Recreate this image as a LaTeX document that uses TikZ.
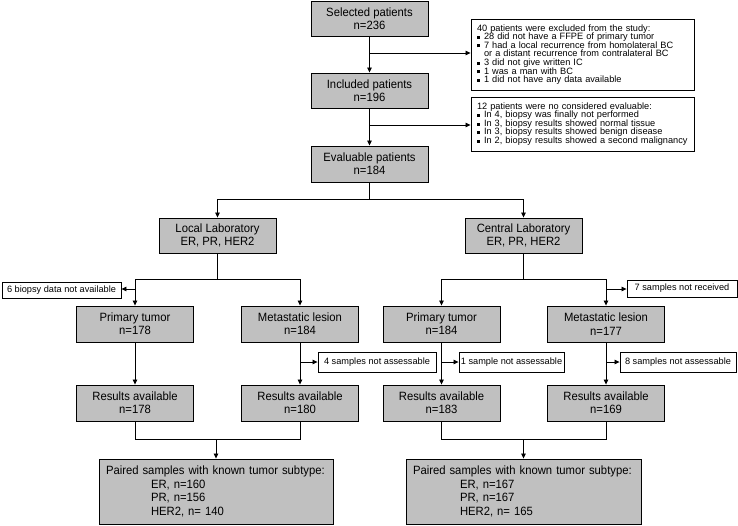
\documentclass[tikz,border=0pt]{standalone}
\usepackage{fontspec}
\setmainfont{Liberation Sans}
\newfontfamily\boxfont[FakeStretch=0.94]{Liberation Sans}
\usetikzlibrary{arrows.meta}
\definecolor{boxgray}{RGB}{192,192,192}
\newcommand{\sqb}{\makebox[7pt][l]{\rule[0.8pt]{3pt}{3pt}}}
\begin{document}
\begin{tikzpicture}[x=1pt,y=-1pt,
  box/.style={draw=black, fill=boxgray, line width=0.9pt, minimum width=117pt, minimum height=35pt,
    inner sep=0pt, align=center, font=\boxfont\fontsize{12}{13.4}\selectfont},
  note/.style={draw=black, fill=white, line width=0.9pt, inner sep=0pt,
    font=\fontsize{9.2}{8.6}\selectfont},
  arr/.style={-{Triangle[length=5pt,width=4.5pt]}, line width=0.8pt},
  ln/.style={line width=0.8pt}]
\useasboundingbox (0,0) rectangle (738,525);

% main column
\node[box] (sel) at (369.5,18.5) {Selected patients\\n=236};
\node[box] (inc) at (369.5,90.5) {Included patients\\n=196};
\node[box, minimum height=36pt] (eva) at (369.5,164) {Evaluable patients\\n=184};

\node[note, text width=211pt, inner xsep=6pt, minimum height=71pt, align=left] (ex1) at (582.5,54.5)
 {40 patients were excluded from the study:\\
  \sqb 28 did not have a FFPE of primary tumor\\
  \sqb 7 had a local recurrence from homolateral BC\\
  \hspace*{7pt}or a distant recurrence from contralateral BC\\
  \sqb 3 did not give written IC\\
  \sqb 1 was a man with BC\\
  \sqb 1 did not have any data available};
\node[note, text width=211pt, inner xsep=6pt, minimum height=54pt, align=left] (ex2) at (582.5,124)
 {12 patients were no considered evaluable:\\
  \sqb In 4, biopsy was finally not performed\\
  \sqb In 3, biopsy results showed normal tissue\\
  \sqb In 3, biopsy results showed benign disease\\
  \sqb In 2, biopsy results showed a second malignancy};

% laboratories
\node[box] (loc) at (217.5,235.5) {Local Laboratory\\ER, PR, HER2};
\node[box] (cen) at (523.5,235.5) {Central Laboratory\\ER, PR, HER2};

\node[box, minimum height=36pt] (pt1) at (135,324) {Primary tumor\\n=178};
\node[box, minimum height=36pt] (ml1) at (300,324) {Metastatic lesion\\n=184};
\node[box, minimum height=36pt] (pt2) at (441.5,324) {Primary tumor\\n=184};
\node[box, minimum height=36pt] (ml2) at (606,324) {Metastatic lesion\\n=177};

\node[note, minimum width=119pt, minimum height=16pt] (bio) at (61.5,290) {6 biopsy data not available};
\node[note, minimum width=110pt, minimum height=17pt] (rec) at (682,288.5) {7 samples not received};

\node[note, minimum width=118pt, minimum height=20pt] (ns1) at (377,362) {4 samples not assessable};
\node[note, minimum width=105pt, minimum height=20pt] (ns2) at (511.5,362) {1 sample not assessable};
\node[note, minimum width=116pt, minimum height=20pt] (ns3) at (678,362) {8 samples not assessable};

\node[box, minimum height=36pt] (r1) at (135,403) {Results available\\n=178};
\node[box, minimum height=36pt] (r2) at (300,403) {Results available\\n=180};
\node[box, minimum height=36pt] (r3) at (441.5,403) {Results available\\n=183};
\node[box, minimum height=36pt] (r4) at (606,403) {Results available\\n=169};

\node[box, text width=220pt, inner xsep=7pt, minimum height=65pt, align=left] (pl) at (216,491.5)
 {Paired samples with known tumor subtype:\\
  \hspace*{45pt}ER, n=160\\
  \hspace*{45pt}PR, n=156\\
  \hspace*{45pt}HER2, n= 140};
\node[box, text width=221pt, inner xsep=7pt, minimum height=65pt, align=left] (pr) at (523.5,491.5)
 {Paired samples with known tumor subtype:\\
  \hspace*{47pt}ER, n=167\\
  \hspace*{47pt}PR, n=167\\
  \hspace*{47pt}HER2, n= 165};

% connectors: main column
\draw[arr] (sel) -- (inc);
\draw[arr] (inc) -- (eva);
\coordinate (j1) at (369.5,53);
\coordinate (j2) at (369.5,125);
\draw[arr] (j1) -- (j1 -| ex1.west);
\draw[arr] (j2) -- (j2 -| ex2.west);

\coordinate (s0) at (369.5,199);
\draw[ln] (eva.south) -- (s0);
\draw[arr] (s0) -| (loc.north);
\draw[arr] (s0) -| (cen.north);

\coordinate (s1) at (217.5,279);
\draw[ln] (loc.south) -- (s1);
\draw[arr] (s1) -| (pt1.north);
\draw[arr] (s1) -| (ml1.north);
\coordinate (b1) at (135,289);
\draw[arr] (b1) -- (b1 -| bio.east);

\coordinate (s2) at (523.5,279);
\draw[ln] (cen.south) -- (s2);
\draw[arr] (s2) -| (pt2.north);
\draw[arr] (s2) -| (ml2.north);
\coordinate (b2) at (606,289);
\draw[arr] (b2) -- (b2 -| rec.west);

% to results
\draw[arr] (pt1) -- (r1);
\draw[arr] (ml1) -- (r2);
\draw[arr] (pt2) -- (r3);
\draw[arr] (ml2) -- (r4);
\coordinate (c1) at (300,362);
\coordinate (c2) at (441.5,362);
\coordinate (c3) at (606,362);
\draw[arr] (c1) -- (ns1.west);
\draw[arr] (c2) -- (ns2.west);
\draw[arr] (c3) -- (ns3.west);

% merges
\coordinate (m1) at (216,439);
\coordinate (m2) at (523.5,439);
\draw[ln] (r1.south) -- (r1.south |- m1) -- (r2.south |- m1) -- (r2.south);
\draw[arr] (m1) -- (pl.north);
\draw[ln] (r3.south) -- (r3.south |- m2) -- (r4.south |- m2) -- (r4.south);
\draw[arr] (m2) -- (pr.north);
\end{tikzpicture}
\end{document}
